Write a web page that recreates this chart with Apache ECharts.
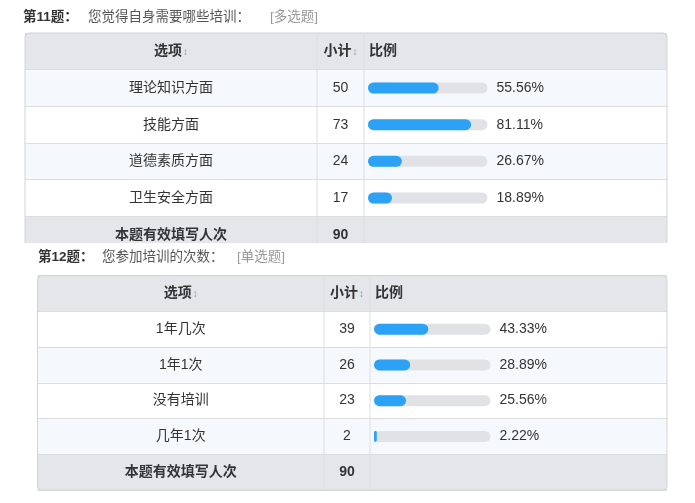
<!DOCTYPE html>
<html>
<head>
  <meta charset="utf-8">
  <script src="https://cdn.jsdelivr.net/npm/echarts@6/dist/echarts.min.js"></script>
  <style>
    body { margin: 0; background: #fff; }
  </style>
  <title>培训调查</title>
  <script type="text/javascript">
    // data
    const q11Title = ['第11题：', '您觉得自身需要哪些培训：', '[多选题]'];
    const q11Options = ['理论知识方面', '技能方面', '道德素质方面', '卫生安全方面'];
    const q11Counts = [50, 73, 24, 17];
    const q11Total = 90;

    const q12Title = ['第12题：', '您参加培训的次数：', '[单选题]'];
    const q12Options = ['1年几次', '1年1次', '没有培训', '几年1次'];
    const q12Counts = [39, 26, 23, 2];
    const q12Total = 90;

    const headers = ['选项', '小计', '比例'];
    const totalLabel = '本题有效填写人次';

    const FONT = "'Liberation Sans', 'Noto Sans CJK SC', sans-serif";
    const LIGHT = '#f5f9fd', GRAY = '#e4e6ea', BORDER = '#dcdde1';

    // table layout (page pixels); axisMax: the blue bar runs a bit longer than the grey track in the original
    const layouts = [
      { x: 25, y: 33, w: 642, h: 220, col1: 317, col2: 364, barL: 368, barW: 119.5, axisMax: 94,
        stripe: [GRAY, LIGHT, '#fff', LIGHT, '#fff', GRAY], z: 0, sortBlue: false,
        titleTop: 11, titleLeft: [23, 88, 270] },
      { x: 37.5, y: 275.5, w: 629.5, h: 214.5, col1: 324, col2: 370, barL: 374, barW: 116.5, axisMax: 93,
        stripe: [GRAY, '#fff', LIGHT, '#fff', LIGHT, GRAY], z: 3, sortBlue: true,
        titleTop: 251, titleLeft: [38, 102, 237] }
    ];

    const option = { grid: [], xAxis: [], yAxis: [], series: [], title: [], graphic: { elements: [] } };

    function pct(c, total) {
      return (c / total * 100).toFixed(2);
    }

    function addTable(t, titles, names, counts, total) {
      const L = layouts[t];
      const rowH = L.h / 6;
      const g0 = option.grid.length;
      const y0 = option.yAxis.length;

      // background grid: whole table, striped rows
      option.grid.push({ left: L.x, top: L.y, width: L.w, height: L.h });
      option.xAxis.push({ gridIndex: g0, type: 'value', min: 0, max: 1, show: false });

      const optionCol = [headers[0]].concat(names, [totalLabel]);
      const countCol = [headers[1]].concat(counts.map(String), [String(total)]);
      const ratioCol = [headers[2], '', '', '', '', ''];
      const rich = {
        b: { fontWeight: 'bold', fontSize: 14, color: '#333', fontFamily: FONT },
        n: { fontSize: 14, color: '#333', fontFamily: FONT },
        s: { fontSize: 10, color: '#999', padding: [2, 0, 0, 1] },
        sb: { fontSize: 10, color: '#4aa3e8', padding: [2, 0, 0, 1] }
      };
      const fmt = function (withSort, blue) {
        return function (v, i) {
          if (i === 0) return '{b|' + v + '}' + (withSort ? (blue ? '{sb|↕}' : '{s|↕}') : '');
          if (i === 5) return '{b|' + v + '}';
          return '{n|' + v + '}';
        };
      };
      const labelAxis = function (data, margin, align, withSort, blue, isFirst) {
        return {
          gridIndex: g0, type: 'category', data: data, inverse: true, position: 'left',
          z: L.z,
          axisLine: { show: false }, axisTick: { show: false },
          splitLine: { show: isFirst, lineStyle: { color: BORDER } },
          splitArea: { show: isFirst, areaStyle: { color: L.stripe } },
          axisLabel: { inside: true, margin: margin, align: align, formatter: fmt(withSort, blue), rich: rich }
        };
      };
      option.yAxis.push(labelAxis(optionCol, (L.x + L.col1) / 2 - L.x, 'center', true, false, true));
      option.yAxis.push(labelAxis(countCol, (L.col1 + L.col2) / 2 - L.x, 'center', true, L.sortBlue, false));
      option.yAxis.push(labelAxis(ratioCol, L.col2 + 5 - L.x, 'left', false, false, false));

      // bar grid: the four answer rows in the ratio column
      const g1 = g0 + 1;
      option.grid.push({ left: L.barL, top: L.y + rowH, width: L.barW, height: rowH * 4 });
      option.xAxis.push({ gridIndex: g1, type: 'value', min: 0, max: L.axisMax, show: false });
      option.yAxis.push({
        gridIndex: g1, type: 'category', data: names, inverse: true, z: L.z,
        axisLine: { show: false }, axisTick: { show: false }, axisLabel: { show: false }
      });
      option.yAxis.push({
        gridIndex: g1, type: 'category', data: counts.map(c => pct(c, total) + '%'),
        inverse: true, position: 'right', z: L.z,
        axisLine: { show: false }, axisTick: { show: false },
        axisLabel: { margin: 9, align: 'left', fontSize: 14, color: '#333', fontFamily: FONT }
      });
      option.series.push({
        type: 'bar', xAxisIndex: g1, yAxisIndex: y0 + 3, z: L.z + 2,
        data: counts.map(c => +pct(c, total)),
        barWidth: 11, silent: true, animation: false,
        showBackground: true,
        backgroundStyle: { color: '#e1e2e6', borderRadius: 5.5 },
        itemStyle: { color: '#2ca2f6', borderRadius: 5.5 }
      });

      // titles
      const tStyles = [
        { fontSize: 13.5, fontWeight: 'bold', color: '#333' },
        { fontSize: 13.5, fontWeight: 'normal', color: '#555' },
        { fontSize: 13.5, fontWeight: 'normal', color: '#999' }
      ];
      titles.forEach(function (txt, k) {
        option.title.push({
          text: txt, left: L.titleLeft[k], top: L.titleTop, padding: 0,
          textStyle: Object.assign({ fontFamily: FONT }, tStyles[k])
        });
      });

      // frame and column lines
      const fz = L.z + 1;
      option.graphic.elements.push({
        type: 'rect', z: fz, silent: true,
        shape: { x: L.x, y: L.y, width: L.w, height: L.h, r: 4 },
        style: { fill: 'none', stroke: '#d2d3d6', lineWidth: 1 }
      });
      [L.col1, L.col2].forEach(function (cx) {
        option.graphic.elements.push({
          type: 'line', z: fz, silent: true,
          shape: { x1: cx, y1: L.y, x2: cx, y2: L.y + L.h },
          style: { stroke: BORDER, lineWidth: 1 }
        });
      });
    }

    function init() {
      addTable(0, q11Title, q11Options, q11Counts, q11Total);
      // white cut between the two screenshots
      option.graphic.elements.push({
        type: 'rect', z: 2, silent: true,
        shape: { x: 0, y: 243, width: 695, height: 260 },
        style: { fill: '#fff' }
      });
      addTable(1, q12Title, q12Options, q12Counts, q12Total);
      option.animation = false;
      const chart = echarts.init(document.getElementById('main'));
      chart.setOption(option);
    }
  </script>
</head>
<body onload="init()">
  <div id="main" style="width: 695px; height: 503px;"></div>
</body>
</html>
